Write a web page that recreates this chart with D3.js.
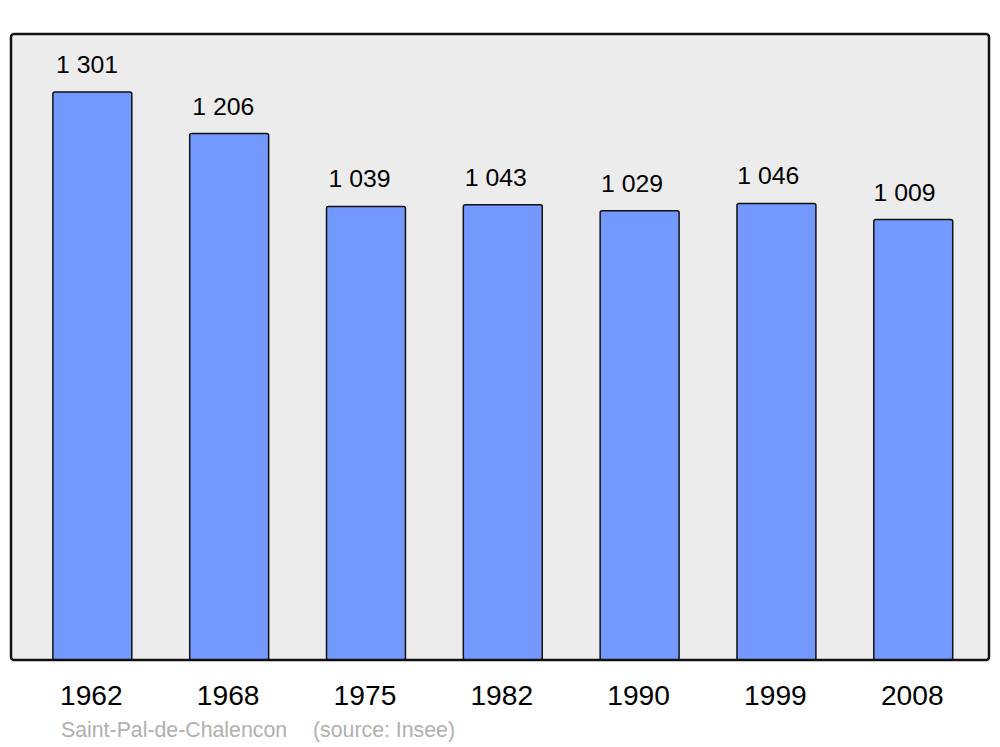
<!DOCTYPE html>
<html><head><meta charset="utf-8">
<script src="https://cdn.jsdelivr.net/npm/d3@7"></script>
<style>body{margin:0;background:#fff}svg{display:block}</style>
</head><body>
<svg id="c" width="1000" height="747"></svg>
<script>
const years = ["1962","1968","1975","1982","1990","1999","2008"];
const population = [1301,1206,1039,1043,1029,1046,1009];
const valueLabels = ["1 301","1 206","1 039","1 043","1 029","1 046","1 009"];
const caption = "Saint-Pal-de-Chalencon";
const source = "(source: Insee)";

const svg = d3.select("#c");
const panel = {x0:11, x1:989, y0:34, y1:660};
const font = "Liberation Sans, Arial, sans-serif";

svg.append("rect").attr("x",panel.x0).attr("y",panel.y0)
  .attr("width",panel.x1-panel.x0).attr("height",panel.y1-panel.y0)
  .attr("rx",3).attr("fill","#ececec");

const x = d3.scaleBand().domain(years).range([24, 981.6]).paddingInner(0.423).paddingOuter(0.211);
const xl = d3.scalePoint().domain(years).range([87, 904.5]);
const y = d3.scaleLinear().domain([0, 1434]).range([panel.y1, panel.y0]);

const g = svg.append("g");
g.selectAll("rect.bar").data(years).join("rect").attr("class","bar")
  .attr("x", d=>x(d)).attr("y", (d,i)=>y(population[i]))
  .attr("width", x.bandwidth()).attr("height", (d,i)=>y(0)-y(population[i]))
  .attr("rx",2).attr("fill","#7399ff").attr("stroke","#111").attr("stroke-width",1.5);

g.selectAll("text.val").data(years).join("text").attr("class","val")
  .attr("x", d=>xl(d)).attr("y",(d,i)=>y(population[i])-19)
  .attr("text-anchor","middle").attr("font-family",font)
  .attr("font-size",24.8).attr("fill","#000").text((d,i)=>valueLabels[i]);

svg.append("rect").attr("x",panel.x0).attr("y",panel.y0)
  .attr("width",panel.x1-panel.x0).attr("height",panel.y1-panel.y0)
  .attr("rx",3).attr("fill","none").attr("stroke","#111").attr("stroke-width",2.5);

svg.selectAll("text.yr").data(years).join("text").attr("class","yr")
  .attr("x", d=>x(d)+x.bandwidth()/2-1).attr("y",705)
  .attr("text-anchor","middle").attr("font-family",font)
  .attr("font-size",28.2).attr("fill","#000").text(d=>d);

svg.append("text").attr("x",61).attr("y",736.5).attr("font-family",font)
  .attr("font-size",21.3).attr("fill","#b0b0b0").text(caption);
svg.append("text").attr("x",313).attr("y",736.5).attr("font-family",font)
  .attr("font-size",21.3).attr("fill","#b0b0b0").text(source);
</script>
</body></html>
